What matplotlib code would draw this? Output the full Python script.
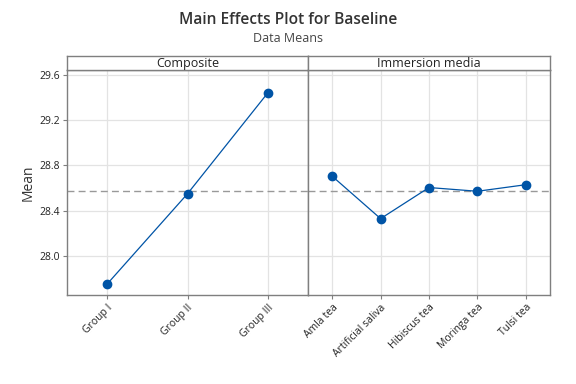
import matplotlib
matplotlib.use("Agg")
import matplotlib.pyplot as plt

plt.rcParams['font.family'] = ['Open Sans', 'DejaVu Sans']

composite = ["Group I", "Group II", "Group III"]
composite_means = [27.752, 28.550, 29.442]

media = ["Amla tea", "Artificial saliva", "Hibiscus tea", "Moringa tea", "Tulsi tea"]
media_means = [28.705, 28.330, 28.605, 28.572, 28.630]

grand_mean = 28.572
yticks = [28.0, 28.4, 28.8, 29.2, 29.6]

blue = "#0054a6"
frame = "#7f7f7f"
grid = "#e3e3e3"

W, H = 576, 384
fig = plt.figure(figsize=(W / 100, H / 100), dpi=100)


def box(x0, y0, x1, y1):
    return [x0 / W, 1 - y1 / H, (x1 - x0) / W, (y1 - y0) / H]


panels = [
    ("Composite", composite, composite_means, box(67, 70, 308, 295), box(67, 56, 308, 70)),
    ("Immersion media", media, media_means, box(308, 70, 550, 295), box(308, 56, 550, 70)),
]

for i, (name, cats, vals, rect, srect) in enumerate(panels):
    ax = fig.add_axes(rect)
    xs = list(range(1, len(cats) + 1))
    ax.plot(xs, vals, color=blue, lw=0.9, marker="o", ms=6, zorder=3)
    ax.axhline(grand_mean, color="#999999", ls=(0, (5, 3)), lw=1, zorder=2)
    ax.set_xlim(0.5, len(cats) + 0.5)
    ax.set_ylim(27.655, 29.644)
    ax.set_xticks(xs)
    ax.set_xticklabels(cats, rotation=45, ha="right", rotation_mode="anchor",
                       fontsize=7.5, color="#222222")
    ax.set_yticks(yticks)
    ax.grid(True, color=grid, lw=0.9, zorder=0)
    ax.set_axisbelow(True)
    for s in ax.spines.values():
        s.set_color(frame)
        s.set_linewidth(1)
    ax.tick_params(axis="x", length=3, color=frame, pad=2)
    if i == 0:
        ax.set_yticklabels([f"{t:.1f}" for t in yticks], fontsize=7.5, color="#222222")
        ax.tick_params(axis="y", length=3, color=frame, pad=2)
        ax.set_ylabel("Mean", fontsize=10, color="#333333", labelpad=3)
    else:
        ax.tick_params(axis="y", left=False, labelleft=False)

    sax = fig.add_axes(srect)
    sax.set_xticks([])
    sax.set_yticks([])
    for s in sax.spines.values():
        s.set_color(frame)
        s.set_linewidth(1)
    sax.text(0.5, 0.45, name, ha="center", va="center", fontsize=9,
             color="#222222", transform=sax.transAxes)

fig.text(0.5, 1 - 20 / H, "Main Effects Plot for Baseline", ha="center", va="center",
         fontsize=11.2, fontweight="semibold", color="#333333")
fig.text(0.5, 1 - 39 / H, "Data Means", ha="center", va="center",
         fontsize=9, color="#444444")

fig.savefig("out.png", dpi=100)
